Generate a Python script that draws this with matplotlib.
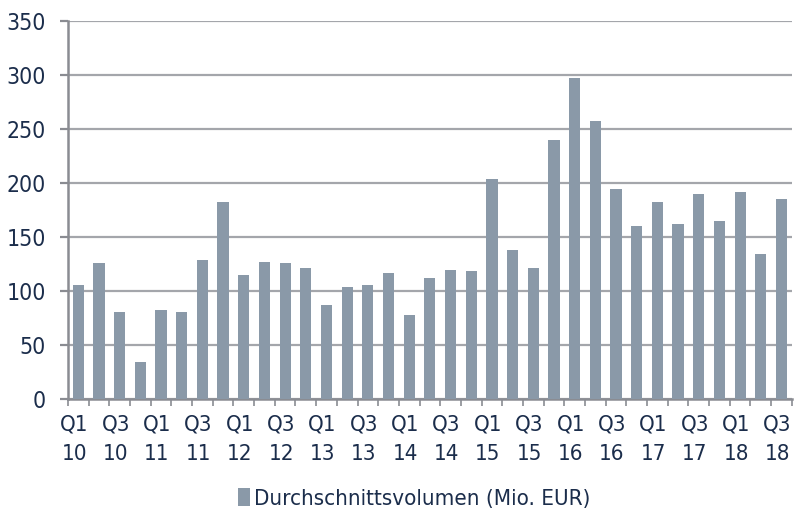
import matplotlib
matplotlib.use("Agg")
import matplotlib.pyplot as plt
from matplotlib.transforms import ScaledTranslation

quarters = ["Q1", "Q2", "Q3", "Q4"]
years = [str(y) for y in range(10, 19)]
categories = [f"{q}\n{y}" for y in years for q in quarters][:35]

volumes = [106, 126, 81, 35, 83, 81, 129, 183, 115, 127,
           126, 122, 87, 104, 106, 117, 78, 112, 120, 119,
           204, 138, 122, 240, 297, 258, 195, 160, 183, 162,
           190, 165, 192, 135, 185]

series_label = "Durchschnittsvolumen (Mio. EUR)"
yticks = [0, 50, 100, 150, 200, 250, 300, 350]

bar_color = "#8a99a8"
text_color = "#1b2d4b"
grid_color = "#a4a6ab"
axis_color = "#8a8c92"

plt.rcParams["font.family"] = ["DejaVu Sans"]
plt.rcParams["font.stretch"] = "condensed"

fig = plt.figure(figsize=(7.95, 5.15), dpi=100)
ax = fig.add_axes([0.0855, 0.2243, 0.9105, 0.7348])

x = list(range(len(volumes)))
ax.bar(x, volumes, width=0.54, color=bar_color, zorder=3, label=series_label)

ax.set_xlim(-0.5, len(volumes) - 0.5)
ax.set_ylim(0, 350)
ax.set_yticks(yticks)
ax.set_yticklabels([str(v) for v in yticks], fontsize=16.5, color=text_color)
ax.yaxis.grid(True, color=grid_color, linewidth=1.6, zorder=1)

# tick marks on category boundaries, labels on every second category
ax.set_xticks([i - 0.5 for i in range(len(volumes) + 1)])
ax.set_xticklabels([])
ax.tick_params(axis="x", which="major", length=5, width=1.2, color=axis_color)
ax.set_xticks(x[::2], minor=True)
ax.set_xticklabels(categories[::2], minor=True, fontsize=16, color=text_color,
                   linespacing=1.55)
ax.tick_params(axis="x", which="minor", length=0, pad=11)
ax.tick_params(axis="y", length=6, width=1.6, color=axis_color, pad=10)

shift = ScaledTranslation(-4 / 100, 0, fig.dpi_scale_trans)
for lbl in ax.get_xticklabels(minor=True):
    lbl.set_transform(lbl.get_transform() + shift)

for side in ["top", "right"]:
    ax.spines[side].set_visible(False)
for side in ["left", "bottom"]:
    ax.spines[side].set_color(axis_color)
    ax.spines[side].set_linewidth(1.8)

fig.legend(loc="lower center", bbox_to_anchor=(0.521, -0.027), frameon=False,
           fontsize=16, labelcolor=text_color, handlelength=0.55, handleheight=0.85,
           handletextpad=0.2)

fig.savefig("out.png", dpi=100)
